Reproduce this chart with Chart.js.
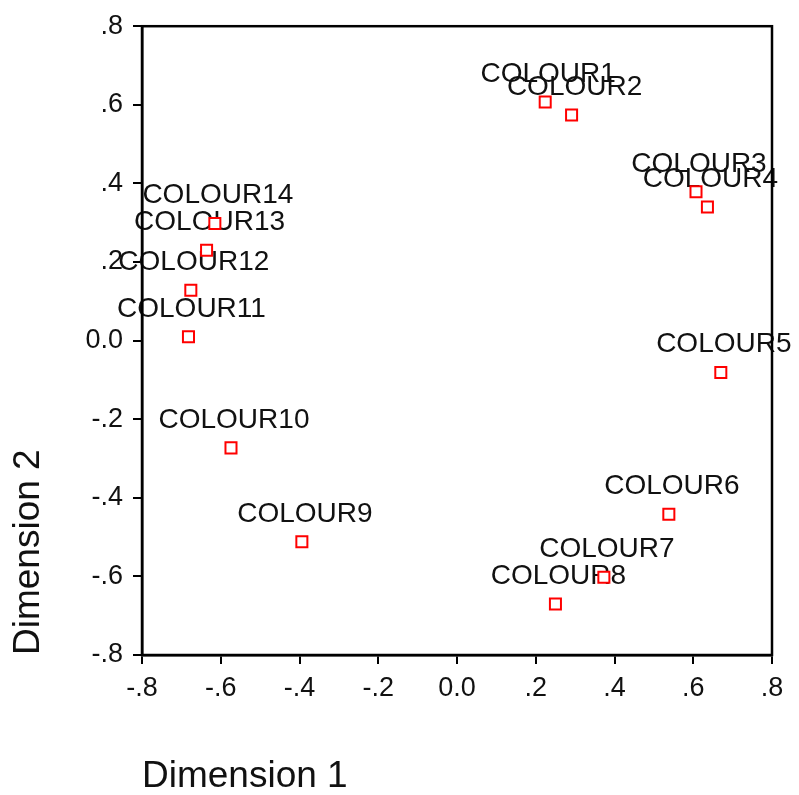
<!DOCTYPE html>
<html>
<head>
<meta charset="utf-8">
<script src="https://cdn.jsdelivr.net/npm/chart.js@4/dist/chart.umd.min.js"></script>
<style>
    html, body { margin: 0; padding: 0; background: #fff; }
</style>
</head>
<body>
<canvas id="myChart" width="799" height="795"></canvas>
<script>
// точки MDS: подписи и координаты по двум измерениям
const pointLabels = ['COLOUR1', 'COLOUR2', 'COLOUR3', 'COLOUR4', 'COLOUR5', 'COLOUR6', 'COLOUR7',
    'COLOUR8', 'COLOUR9', 'COLOUR10', 'COLOUR11', 'COLOUR12', 'COLOUR13', 'COLOUR14'];
const dim1 = [0.224, 0.291, 0.607, 0.636, 0.670, 0.538, 0.373,
    0.250, -0.394, -0.574, -0.682, -0.676, -0.636, -0.615];
const dim2 = [0.607, 0.574, 0.379, 0.340, -0.081, -0.442, -0.602,
    -0.670, -0.512, -0.273, 0.010, 0.128, 0.230, 0.298];
const axisMin = -0.8;
const axisMax = 0.8;
const axisStep = 0.2;

Chart.defaults.font.family = "'Liberation Sans', Arial, sans-serif";
Chart.defaults.color = '#000';

function tickText(v) {
    if (Math.abs(v) < 1e-9) return '0.0';
    return v.toFixed(1).replace('0.', '.');
}

// подписи точек и рамка вокруг области графика
const labelPlugin = {
    id: 'pointLabels',
    beforeDatasetsDraw(chart) {
        const ctx = chart.ctx;
        const meta = chart.getDatasetMeta(0);
        ctx.save();
        ctx.font = "28px 'Liberation Sans', Arial, sans-serif";
        ctx.fillStyle = '#111';
        ctx.textAlign = 'center';
        ctx.textBaseline = 'alphabetic';
        meta.data.forEach((pt, i) => {
            ctx.fillText(pointLabels[i], pt.x + 3, pt.y - 20);
        });
        const a = chart.chartArea;
        ctx.strokeStyle = '#000';
        ctx.lineWidth = 2.5;
        ctx.strokeRect(a.left, a.top, a.right - a.left, a.bottom - a.top);
        ctx.restore();
    }
};

function axisOptions(title, isX) {
    return {
        type: 'linear',
        min: axisMin,
        max: axisMax,
        ticks: {
            stepSize: axisStep,
            callback: (v) => tickText(v),
            font: { size: 27 },
            color: '#111',
            padding: isX ? 8 : 10,
            maxRotation: 0,
            autoSkip: false,
        },
        grid: {
            drawOnChartArea: false,
            drawTicks: true,
            tickLength: 9,
            color: '#000',
            lineWidth: 2,
        },
        border: { display: true, color: '#000', width: 2.5 },
        title: {
            display: true,
            text: title,
            align: 'start',
            color: '#111',
            font: { size: 37, lineHeight: 1 },
            padding: isX ? { top: 0, bottom: 0 } : { top: 10, bottom: 0 },
        },
        afterFit: (scale) => {
            if (isX) scale.height = 140;
            else scale.width = 142;
        },
    };
}

const ctx = document.getElementById('myChart').getContext('2d');
const chart = new Chart(ctx, {
    type: 'scatter',
    data: {
        datasets: [{
            data: dim1.map((x, i) => ({ x: x, y: dim2[i] })),
            pointStyle: 'rect',
            pointRadius: 7.8,
            borderColor: '#ff0000',
            backgroundColor: '#ffffff',
            borderWidth: 2,
        }]
    },
    options: {
        responsive: false,
        animation: false,
        layout: { padding: { top: 21, right: 27, left: 0, bottom: 0 } },
        plugins: {
            legend: { display: false },
            tooltip: { enabled: false },
        },
        scales: {
            x: axisOptions('Dimension 1', true),
            y: axisOptions('Dimension 2', false),
        }
    },
    plugins: [labelPlugin]
});
</script>
</body>
</html>
